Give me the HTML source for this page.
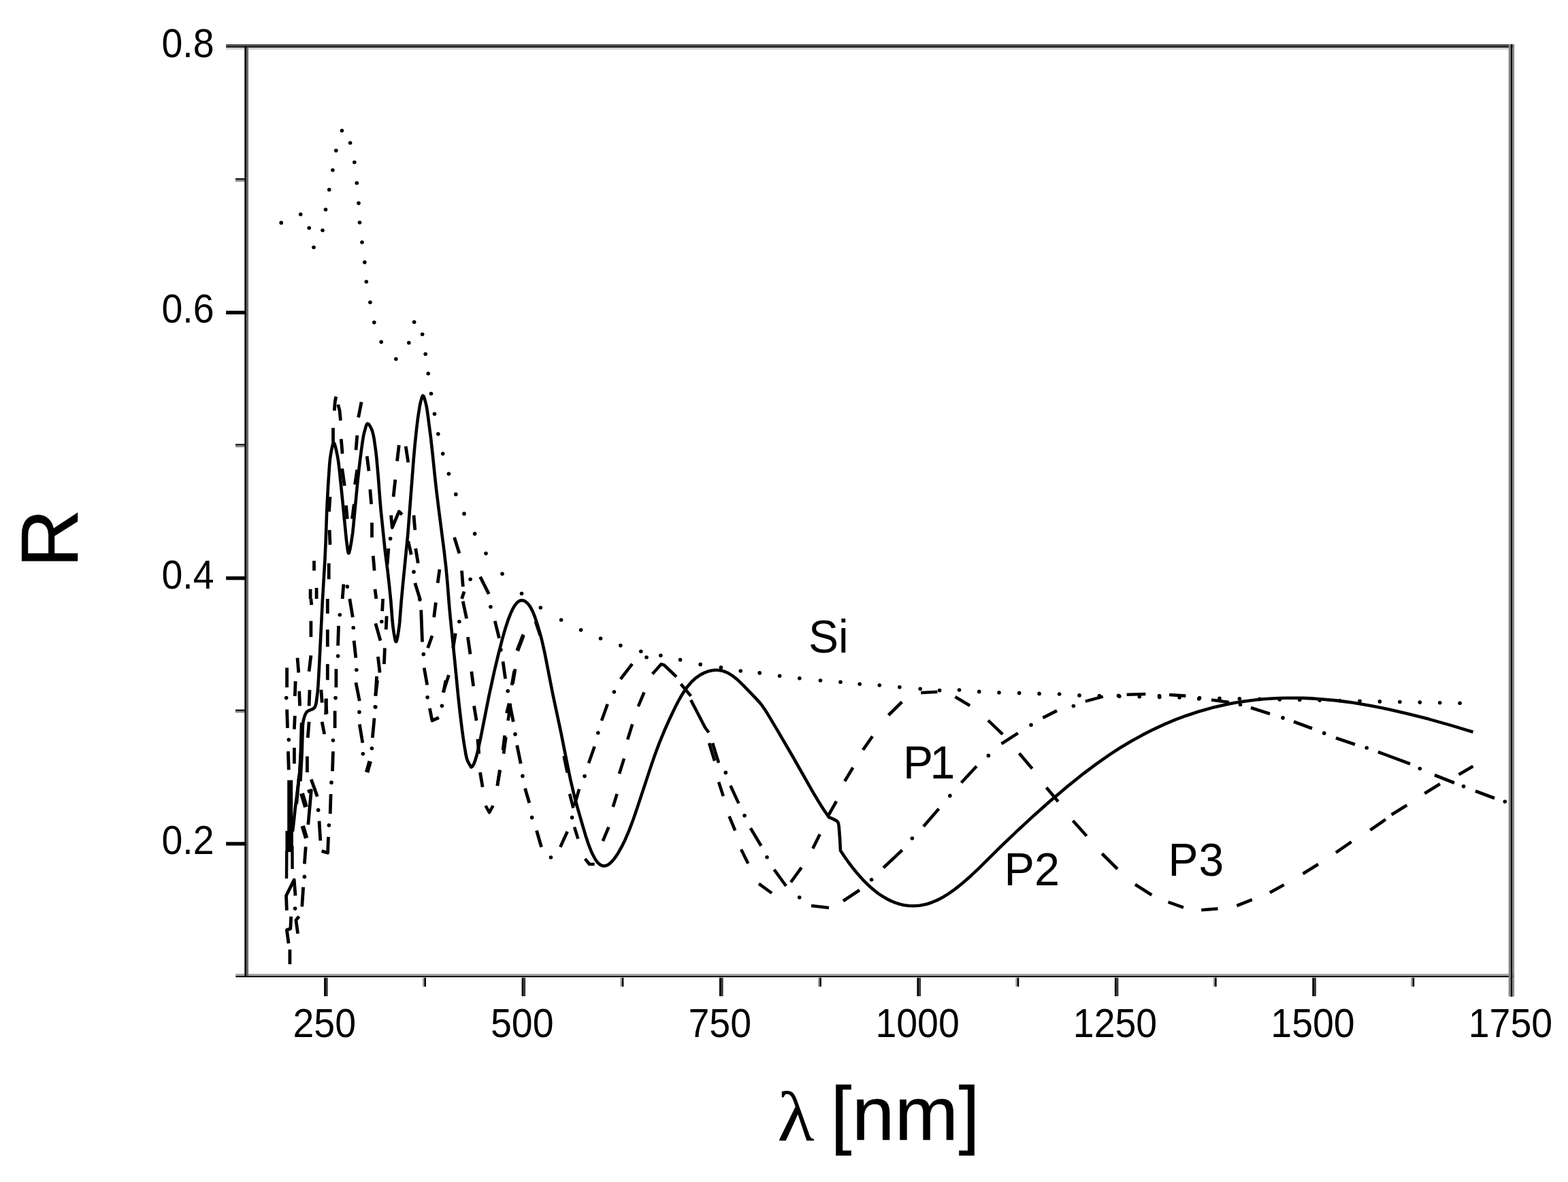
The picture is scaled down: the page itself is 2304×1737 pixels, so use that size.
<!DOCTYPE html>
<html lang="en">
<head>
<meta charset="utf-8">
<title>Reflectance R versus wavelength</title>
<style>
html,body{margin:0;padding:0;background:#fff;}
body{width:2304px;height:1737px;overflow:hidden;}
svg{display:block;}
text{font-family:"Liberation Sans",sans-serif;fill:#000;}
.tk text{font-size:55.5px;}
.lb text{font-size:66px;}
.ttl{font-size:112px;letter-spacing:0.4px;stroke:#000;stroke-width:0.5px;}
.ttlr{font-size:119px;stroke:#000;stroke-width:0.5px;}
.lam{font-family:"Liberation Serif",serif;font-size:103px;}
</style>
</head>
<body>
<svg width="2304" height="1737" viewBox="0 0 2304 1737">
<rect width="2304" height="1737" fill="#fff"/>
<g shape-rendering="auto">
<rect x="346.0" y="1042.7" width="14.0" height="2.2" fill="#000"/>
<rect x="346.0" y="1044.8" width="14.0" height="2.7" fill="#8c8c8c"/>
<rect x="346.0" y="652.4" width="14.0" height="2.2" fill="#000"/>
<rect x="346.0" y="654.6" width="14.0" height="2.7" fill="#8c8c8c"/>
<rect x="346.0" y="262.1" width="14.0" height="2.2" fill="#000"/>
<rect x="346.0" y="264.3" width="14.0" height="2.7" fill="#8c8c8c"/>
<rect x="620.9" y="1435.0" width="2.4" height="14.8" fill="#a6a6a6"/>
<rect x="623.3" y="1435.0" width="2.7" height="14.8" fill="#000"/>
<rect x="911.3" y="1435.0" width="2.4" height="14.8" fill="#a6a6a6"/>
<rect x="913.7" y="1435.0" width="2.7" height="14.8" fill="#000"/>
<rect x="1201.8" y="1435.0" width="2.4" height="14.8" fill="#a6a6a6"/>
<rect x="1204.2" y="1435.0" width="2.7" height="14.8" fill="#000"/>
<rect x="1492.2" y="1435.0" width="2.4" height="14.8" fill="#a6a6a6"/>
<rect x="1494.6" y="1435.0" width="2.7" height="14.8" fill="#000"/>
<rect x="1782.6" y="1435.0" width="2.4" height="14.8" fill="#a6a6a6"/>
<rect x="1785.0" y="1435.0" width="2.7" height="14.8" fill="#000"/>
<rect x="2073.1" y="1435.0" width="2.4" height="14.8" fill="#a6a6a6"/>
<rect x="2075.5" y="1435.0" width="2.7" height="14.8" fill="#000"/>
<rect x="332.2" y="1237.3" width="27.8" height="5.3" fill="#000"/>
<rect x="332.2" y="847.0" width="27.8" height="5.3" fill="#000"/>
<rect x="332.2" y="456.7" width="27.8" height="5.3" fill="#000"/>
<rect x="476.1" y="1435.0" width="2.8" height="29.0" fill="#000"/>
<rect x="478.9" y="1435.0" width="2.8" height="29.0" fill="#333"/>
<rect x="766.6" y="1435.0" width="2.8" height="29.0" fill="#000"/>
<rect x="769.3" y="1435.0" width="2.8" height="29.0" fill="#333"/>
<rect x="1057.0" y="1435.0" width="2.8" height="29.0" fill="#000"/>
<rect x="1059.8" y="1435.0" width="2.8" height="29.0" fill="#333"/>
<rect x="1347.4" y="1435.0" width="2.8" height="29.0" fill="#000"/>
<rect x="1350.2" y="1435.0" width="2.8" height="29.0" fill="#333"/>
<rect x="1637.9" y="1435.0" width="2.8" height="29.0" fill="#000"/>
<rect x="1640.6" y="1435.0" width="2.8" height="29.0" fill="#333"/>
<rect x="1928.3" y="1435.0" width="2.8" height="29.0" fill="#000"/>
<rect x="1931.1" y="1435.0" width="2.8" height="29.0" fill="#333"/>
<rect x="332.2" y="65.0" width="1892.9" height="3.1" fill="#4d4d4d"/>
<rect x="332.2" y="68.1" width="1892.9" height="1.8" fill="#000"/>
<rect x="332.2" y="69.9" width="1890.2" height="2.9" fill="#cfcfcf"/>
<rect x="346.3" y="1431.0" width="1878.8" height="3.1" fill="#a6a6a6"/>
<rect x="346.3" y="1434.1" width="1878.8" height="1.9" fill="#000"/>
<rect x="346.3" y="1436.0" width="1876.1" height="0.8" fill="#d9d9d9"/>
<rect x="359.3" y="68.1" width="3.0" height="1367.9" fill="#000"/>
<rect x="362.3" y="69.9" width="2.7" height="1364.2" fill="#666"/>
<rect x="2216.7" y="65.0" width="3.2" height="1399.3" fill="#878787"/>
<rect x="2219.9" y="65.0" width="2.5" height="1399.8" fill="#000"/>
<rect x="2222.4" y="65.0" width="2.7" height="1399.3" fill="#878787"/>
</g>
<g class="tk" text-anchor="middle">
<text transform="translate(476.8,1523.6) scale(1,1.055)">250</text>
<text transform="translate(767.2,1523.6) scale(1,1.055)">500</text>
<text transform="translate(1057.7,1523.6) scale(1,1.055)">750</text>
<text transform="translate(1348.1,1523.6) scale(1,1.055)">1000</text>
<text transform="translate(1638.5,1523.6) scale(1,1.055)">1250</text>
<text transform="translate(1929.0,1523.6) scale(1,1.055)">1500</text>
<text transform="translate(2219.4,1523.6) scale(1,1.055)">1750</text>
</g>
<g class="tk" text-anchor="end">
<text transform="translate(314.6,1255.1) scale(1,1.055)">0.2</text>
<text transform="translate(314.6,864.7) scale(1,1.055)">0.4</text>
<text transform="translate(314.6,474.2) scale(1,1.055)">0.6</text>
<text transform="translate(314.6,83.8) scale(1,1.055)">0.8</text>
</g>
<text class="ttlr" transform="translate(113.6,833.9) rotate(-90)">R</text>
<text class="lam" transform="translate(1142.3,1675.5) scale(1.09,1)">λ</text>
<text class="ttl" x="1220.5" y="1674.5">[nm]</text>
<g class="lb">
<text transform="translate(1188,958.6) scale(1,1.03)">Si</text>
<text transform="translate(1327,1144) scale(1,1.03)" style="letter-spacing:-4.5px">P1</text>
<text transform="translate(1475.5,1301) scale(1.01,1.03)">P2</text>
<text transform="translate(1716.5,1287.2) scale(1,1.03)" style="letter-spacing:1px">P3</text>
</g>
<g fill="none" stroke="#000" stroke-width="4.6" stroke-linejoin="round" stroke-linecap="butt">
<path d="M430.0,1222.0L432.0,1205.0 433.5,1190.0 439.3,1144.0 440.6,1132.0 441.5,1120.0 443.1,1086.8 444.3,1069.4 445.3,1061.5 446.6,1055.6 448.0,1051.3 449.8,1047.6 451.0,1046.0 452.6,1044.8 454.5,1043.9 458.6,1042.4 460.5,1041.4 462.0,1040.0 462.9,1038.5 463.6,1036.9 464.6,1033.1 466.7,1016.7 467.5,1007.1 469.0,980.5 473.8,884.1 477.6,819.2 478.5,798.9 480.3,748.4 482.1,713.8 484.1,684.1 485.0,674.1 486.5,664.5 488.6,654.4 489.8,651.4 490.4,651.0 491.0,651.4 491.6,652.5 492.8,656.4 494.1,661.6 496.1,671.6 497.0,676.8 498.7,690.7 502.4,726.4 508.8,791.9 511.1,809.6 511.9,812.6 512.3,813.0 512.7,812.7 513.1,811.8 514.4,806.5 516.3,796.0 518.3,782.5 519.3,772.6 524.6,716.6 527.3,690.7 530.5,664.7 532.9,647.6 534.3,639.3 535.2,635.7 537.7,626.6 538.5,624.5 539.3,623.1 540.2,622.5 541.4,623.0 542.7,624.5 545.4,629.4 547.1,633.5 548.5,639.0 549.7,645.2 552.2,662.9 553.3,672.5 555.8,700.8 558.4,735.3 559.6,749.3 566.0,811.2 569.7,839.8 572.1,861.4 574.2,882.0 576.4,910.0 577.3,919.9 578.8,930.3 580.2,937.9 581.1,941.6 581.5,942.6 582.0,943.0 582.5,942.6 582.9,941.6 584.3,935.6 586.2,923.4 587.3,914.2 589.6,884.2 591.9,859.6 599.2,786.0 607.8,674.3 609.6,654.0 612.0,631.0 614.1,613.7 616.8,596.5 618.0,591.0 620.0,583.7 620.8,582.1 621.5,581.5 622.2,582.1 623.0,583.6 623.8,585.8 626.0,594.0 627.1,599.2 628.6,609.5 632.9,642.6 635.4,664.9 639.0,700.0 641.0,718.6 645.0,751.0 652.5,809.0 655.2,832.6 657.3,854.8 660.2,891.3 661.7,907.6 668.2,971.0 673.1,1021.6 675.7,1045.5 679.1,1073.5 681.5,1090.7 684.6,1109.3 685.9,1114.8 687.0,1118.0 689.0,1122.1 692.4,1127.4 694.4,1126.0 696.4,1122.4 698.4,1117.0 700.4,1110.1 702.4,1102.0 706.4,1083.8 718.4,1023.0 726.4,986.2 732.4,961.1 738.4,937.9 742.4,924.0 746.4,911.7 750.4,901.4 752.4,897.0 754.4,893.1 756.4,889.8 758.4,887.2 760.4,885.1 762.4,883.6 764.4,882.6 766.4,882.2 768.4,882.4 770.4,883.0 772.4,884.2 774.4,885.9 776.4,888.0 778.4,890.7 780.4,894.0 782.4,897.9 784.4,902.6 786.4,907.9 790.4,920.1 794.4,933.9 796.4,941.7 800.4,959.5 812.4,1020.8 824.4,1077.0 834.4,1127.3 838.4,1146.5 844.4,1171.7 848.4,1186.4 856.4,1214.2 860.4,1227.7 864.4,1239.8 868.4,1250.2 870.4,1254.7 874.4,1262.3 876.4,1265.2 878.4,1267.7 880.4,1269.6 882.4,1271.0 884.4,1272.0 886.4,1272.5 888.4,1272.5 890.4,1272.1 892.4,1271.3 894.4,1270.2 896.4,1268.7 900.4,1264.7 904.4,1259.5 908.4,1253.4 914.4,1242.6 918.4,1234.4 924.4,1220.4 930.4,1204.5 936.4,1187.1 956.4,1126.4 962.4,1109.1 968.4,1092.9 976.4,1073.3 984.4,1055.5 992.4,1038.8 996.4,1031.0 1000.4,1023.8 1006.4,1014.2 1010.4,1008.7 1016.4,1001.8 1022.4,996.3 1028.4,992.1 1034.4,988.9 1040.4,986.6 1046.4,985.2 1050.4,984.8 1054.4,984.8 1058.4,985.2 1062.4,986.1 1066.4,987.5 1070.4,989.4 1076.4,993.1 1080.4,996.2 1084.4,999.6 1092.4,1007.3 1112.4,1028.1 1116.4,1032.6 1120.4,1037.7 1124.4,1043.5 1128.4,1049.9 1142.4,1073.4 1164.4,1111.0 1194.4,1163.8 1202.4,1177.2 1210.4,1189.9 1218.0,1201.0 1222.7,1202.9 1227.2,1205.1 1229.3,1206.2 1231.0,1208.0 1231.7,1209.5 1232.2,1211.2 1232.8,1215.5 1234.1,1233.0 1235.0,1250.0 1241.0,1259.0 1247.0,1267.5 1253.0,1275.4 1259.0,1282.8 1267.0,1291.8 1271.0,1296.0 1277.0,1301.8 1281.0,1305.4 1287.0,1310.3 1291.0,1313.3 1297.0,1317.3 1305.0,1321.9 1309.0,1323.9 1315.0,1326.3 1319.0,1327.7 1325.0,1329.4 1329.0,1330.2 1335.0,1331.0 1343.0,1331.2 1351.0,1330.7 1359.0,1329.2 1363.0,1328.2 1369.0,1326.2 1377.0,1322.9 1385.0,1318.8 1393.0,1313.9 1403.0,1306.9 1415.0,1297.3 1427.0,1286.7 1439.0,1275.3 1471.0,1243.7 1493.0,1222.6 1517.0,1200.4 1543.0,1177.3 1567.0,1156.9 1589.0,1139.2 1611.0,1122.6 1631.0,1108.6 1647.0,1098.3 1663.0,1088.7 1679.0,1079.9 1695.0,1071.8 1711.0,1064.4 1727.0,1057.7 1743.0,1051.7 1761.0,1045.8 1781.0,1040.1 1791.0,1037.7 1803.0,1035.1 1813.0,1033.1 1825.0,1031.1 1835.0,1029.7 1847.0,1028.3 1857.0,1027.3 1869.0,1026.5 1879.0,1026.0 1891.0,1025.7 1903.0,1025.7 1915.0,1025.9 1927.0,1026.4 1939.0,1027.2 1963.0,1029.4 1975.0,1030.9 1989.0,1032.8 2015.0,1037.2 2041.0,1042.4 2069.0,1048.9 2099.0,1056.6 2131.0,1065.6 2164.5,1075.7"/>
<g stroke-width="4.8">
<path d="M491.3,603.5L492.2,590.8L493.7,582.7"/>
<path d="M496.7,594.5L499.1,603.5L500.4,618.0"/>
<path d="M531.1,590.8L526.6,613.5"/>
<path d="M489.5,628.8L489.5,652.3"/>
<path d="M501.3,645.1L503.1,666.8"/>
<path d="M524.8,639.7L523.0,661.4"/>
<path d="M539.2,670.4L542.0,692.1"/>
<path d="M586.3,654.1L583.5,677.6"/>
<path d="M596.2,655.9L599.8,679.5"/>
<path d="M502.7,688.5L506.3,713.8"/>
<path d="M524.8,690.3L521.5,712.0"/>
<path d="M543.8,719.2L545.6,740.9"/>
<path d="M580.8,704.8L578.1,730.1"/>
<path d="M485.0,730.1L483.5,751.8"/>
<path d="M508.5,742.7L510.3,762.6"/>
<path d="M520.3,740.9L517.5,762.6"/>
<path d="M546.5,768.1L546.5,789.8"/>
<path d="M574.5,757.2L576.3,775.3L586.3,751.8L590.8,756.3"/>
<path d="M608.0,757.2L609.8,778.9"/>
<path d="M484.1,778.9L485.0,800.6"/>
<path d="M599.8,795.2L604.3,815.1"/>
<path d="M610.7,806.0L614.3,827.7"/>
<path d="M548.3,816.9L550.1,838.6"/>
<path d="M570.9,806.0L569.1,829.5"/>
<path d="M461.5,824.1L461.5,838.6"/>
<path d="M483.2,827.7L483.2,851.2"/>
<path d="M645.9,836.8L643.2,856.7"/>
<path d="M667.6,789.8L674.9,813.3"/>
<path d="M678.5,838.6L680.3,862.1"/>
<path d="M705.6,847.6L718.3,872.9"/>
<path d="M682.1,869.3L678.5,880.0"/>
<path d="M504.9,858.5L503.1,880.0"/>
<path d="M456.1,865.7L456.1,880.0"/>
<path d="M465.1,863.9L465.1,880.0"/>
<path d="M551.0,865.7L552.8,880.0"/>
<path d="M609.8,856.7L617.0,880.0"/>
<path d="M456.9,880.0L457.8,889.0"/>
<path d="M481.3,880.0L481.3,901.7"/>
<path d="M513.8,880.0L518.3,907.1"/>
<path d="M562.6,880.0L561.7,898.1"/>
<path d="M640.4,885.4L637.7,907.1"/>
<path d="M680.2,883.6L685.6,908.9"/>
<path d="M456.9,912.5L456.9,936.1"/>
<path d="M481.3,925.2L481.3,950.5"/>
<path d="M497.5,919.8L496.6,948.7"/>
<path d="M551.8,916.2L559.0,941.5"/>
<path d="M568.1,905.3L567.2,925.2"/>
<path d="M618.7,896.3L620.5,943.3"/>
<path d="M635.0,934.2L628.6,952.3"/>
<path d="M669.3,930.6L665.7,952.3"/>
<path d="M727.2,912.5L733.5,937.9"/>
<path d="M768.8,932.4L759.7,955.9"/>
<path d="M520.1,941.5L522.9,966.8"/>
<path d="M565.4,952.3L564.4,975.8"/>
<path d="M687.4,936.1L691.0,961.4"/>
<path d="M437.0,966.8L438.8,988.5"/>
<path d="M456.9,963.2L454.1,986.7"/>
<path d="M555.4,965.0L558.1,988.5"/>
<path d="M481.3,975.8L481.3,999.3"/>
<path d="M493.9,983.1L493.9,1010.2"/>
<path d="M421.6,981.3L421.6,1010.2"/>
<path d="M623.2,981.3L627.7,1006.6"/>
<path d="M659.4,992.1L651.2,1017.4"/>
<path d="M739.0,972.2L742.6,997.5"/>
<path d="M757.0,983.1L753.4,1004.8"/>
<path d="M692.8,986.7L695.6,1008.4"/>
<path d="M434.2,1001.2L433.3,1022.9"/>
<path d="M553.6,993.9L551.8,1022.9"/>
<path d="M522.9,1003.0L528.3,1030.1"/>
<path d="M439.7,1015.6L440.6,1037.3"/>
<path d="M455.0,1013.8L454.1,1037.3"/>
<path d="M479.5,1026.5L478.6,1050.0"/>
<path d="M631.4,1040.9L635.0,1059.0L644.9,1054.5"/>
<path d="M696.5,1037.3L700.1,1059.0"/>
<path d="M748.9,1033.7L754.3,1060.8"/>
<path d="M421.6,1042.7L422.5,1069.9"/>
<path d="M433.3,1051.8L432.4,1071.7"/>
<path d="M492.1,1044.6L492.1,1069.9"/>
<path d="M454.1,1060.8L452.3,1084.3"/>
<path d="M473.1,1060.8L476.7,1078.9"/>
<path d="M550.0,1055.4L547.3,1084.3"/>
<path d="M528.3,1064.4L532.8,1091.6"/>
<path d="M741.7,1080.7L739.0,1102.4"/>
<path d="M701.9,1086.1L703.7,1107.8"/>
<path d="M759.7,1095.2L765.2,1122.3"/>
<path d="M423.4,1104.2L424.3,1131.4"/>
<path d="M432.4,1098.8L432.4,1122.3"/>
<path d="M451.4,1111.5L451.4,1135.0"/>
<path d="M489.4,1104.2L488.5,1133.2"/>
<path d="M705.5,1135.0L709.1,1156.7"/>
<path d="M734.4,1131.4L730.8,1154.9"/>
<path d="M771.5,1158.5L777.8,1180.0"/>
<path d="M439.4,1140.0L435.8,1181.4"/>
<path d="M457.3,1145.4L466.3,1170.6"/>
<path d="M451.9,1163.4L457.3,1161.6L452.8,1211.9"/>
<path d="M469.0,1206.5L470.8,1235.3"/>
<path d="M486.1,1167.0L485.2,1195.8"/>
<path d="M482.5,1229.9L481.6,1253.3L472.6,1250.6"/>
<path d="M449.2,1244.3L447.4,1269.5"/>
<path d="M445.6,1303.7L443.8,1332.4"/>
<path d="M421.4,1337.8L420.5,1316.3L432.2,1292.9L434.0,1316.3"/>
<path d="M439.4,1346.8L434.9,1352.2L437.6,1372.0"/>
<path d="M427.7,1346.8L426.8,1364.8L421.4,1366.6L424.1,1386.4"/>
<path d="M425.9,1395.4L425.9,1417.0"/>
<path d="M471.9,1013.6L473.2,1032.6"/>
<path d="M478.7,1027.1L480.0,1048.8"/>
<path d="M554.6,1000.0L551.9,1021.7"/>
<path d="M655.0,1000.0L651.6,1017.6"/>
<path d="M788.5,1220.5L795.5,1244.8"/>
</g>
<path d="M731,1152.8L734.7,1132"/>
<path d="M740,1107.6L743.4,1083.3"/>
<path d="M746.5,1059L750,1035"/>
<path d="M752,1007L755.6,986"/>
<path d="M760.8,956.6L769.4,934"/>
<path d="M786.8,913L793.8,934"/>
<path d="M828.5,1111L833.7,1135.4"/>
<path d="M837,1166.7L842.4,1187.5"/>
<path d="M844,1215.3L849.3,1232.6"/>
<path d="M885.8,1236L894.4,1215.3"/>
<path d="M900.7,1185.8L906.6,1166.7"/>
<path d="M910,1137L917,1114.6"/>
<path d="M922.2,1086.8L929.2,1064.2"/>
<path d="M937.8,1038.2L946.5,1017.4"/>
<path d="M1000.5,1005.2L1015.2,1022.9"/>
<path d="M1042,1092L1050,1118"/>
<path d="M1056,1149.3L1062.8,1170"/>
<path d="M1071.5,1199.7L1080.2,1220.5"/>
<path d="M1089,1248.3L1099.3,1269"/>
<path d="M1115,1298.6L1134,1312.5"/>
<path d="M1162,1296.5L1177.7,1274.8"/>
<path d="M1194.3,1247L1204.7,1226"/>
<path d="M1217.7,1197.5L1229,1177.5"/>
<path d="M1241.2,1148L1253.3,1128"/>
<path d="M1268,1102L1282,1082"/>
<path d="M1305.5,1051L1325.3,1031.5"/>
<path d="M1353.2,1018L1377.4,1016.7"/>
<path d="M1403.5,1024L1425.2,1037"/>
<path d="M1452,1058.6L1473.3,1079.2"/>
<path d="M1497.6,1107L1516.7,1129.5"/>
<path d="M1537.5,1157.3L1554.9,1178"/>
<path d="M1576.5,1206L1596.7,1228.5"/>
<path d="M1619.3,1254.5L1642,1277"/>
<path d="M1668,1299.7L1692.3,1315.3"/>
<path d="M1716.6,1325.7L1739,1333.7"/>
<path d="M1765.2,1337.2L1789.5,1335.4"/>
<path d="M1817.3,1331L1839.8,1322.2"/>
<path d="M1865.9,1311.8L1886.7,1300.3"/>
<path d="M1914.5,1284L1937,1270"/>
<path d="M1963,1252.8L1985.7,1237.2"/>
<path d="M2013.4,1219.8L2036,1204.2"/>
<path d="M2044.7,1197.2L2067.3,1183.3"/>
<path d="M2093.3,1166L2115.9,1152"/>
<path d="M2143.6,1138.2L2164.5,1126"/>
<path d="M823.3,1244.8L833.7,1222"/>
<path d="M844,1184L851,1159.7"/>
<path d="M865,1121.5L873.6,1097"/>
<path d="M884,1059L892.7,1034.7"/>
<path d="M911.8,998L929,975.7"/>
<path d="M1047,1092L1056,1121"/>
<path d="M1073.3,1154.5L1085.4,1180.6"/>
<path d="M1102.8,1217L1118.4,1243"/>
<path d="M1137.5,1277.8L1155,1302"/>
<path d="M1192,1331L1218,1334"/>
<path d="M1239,1324L1263,1308"/>
<path d="M1298,1275.3L1325.7,1249.3"/>
<path d="M1357,1214.6L1379.5,1188.5"/>
<path d="M1412.5,1150.3L1435,1126"/>
<path d="M1471.5,1093L1495.8,1077.4"/>
<path d="M1532.3,1054.9L1553,1044.4"/>
<path d="M1594.8,1030.6L1620.8,1023.6"/>
<path d="M1655.6,1020.8L1683.3,1020"/>
<path d="M1718,1021L1742.4,1022.6"/>
<path d="M1780,1028.5L1806,1032"/>
<path d="M1838,1040L1866,1049"/>
<path d="M1901,1060.5L1928,1070.5"/>
<path d="M1963,1084.5L1991,1094"/>
<path d="M2025,1105L2072,1122.5"/>
<path d="M2108,1139L2137,1150.5"/>
<path d="M2168,1162.5L2196,1173"/>
<path d="M958.7,990.5L971.5,976L976,977.5L994,994.7"/>
<path d="M1015.2,1028.7L1036,1069L1041.5,1076.5"/>
<path d="M713.5,1184L719,1194L724.5,1184"/>
<path d="M859.7,1262L866,1270L873.6,1270"/>
</g>
<g fill="none" stroke="#000" stroke-width="6.5" stroke-linejoin="round">
<path d="M748.9,1033.7L745.3,1048.2"/>
<path d="M543.7,1118.7L539.1,1135.0"/>
<path d="M444.7,1213.7L450.1,1231.7"/>
<path d="M444.0,1062.0L442.8,1105.0L440.5,1148.0"/>
</g>
<g fill="none" stroke="#000">
<path stroke-width="8.0" d="M426.2,1146.5L426.2,1223.0"/>
<path stroke-width="7.0" d="M443.5,1166.0L449.5,1186.0"/>
<path stroke-width="11.5" d="M425.2,1221.0L425.2,1252.0"/>
<path stroke-width="4.4" d="M421.3,1250.0L421.0,1291.0"/>
<path stroke-width="4.4" d="M429.4,1243.0L429.6,1277.0"/>
</g>
<g fill="#000">
<circle cx="413.2" cy="327.4" r="2.8"/>
<circle cx="441.7" cy="315.0" r="2.8"/>
<circle cx="454.2" cy="335.0" r="2.8"/>
<circle cx="461.0" cy="363.5" r="2.8"/>
<circle cx="474.0" cy="338.5" r="2.8"/>
<circle cx="478.5" cy="308.0" r="2.8"/>
<circle cx="483.7" cy="278.8" r="2.8"/>
<circle cx="488.9" cy="250.0" r="2.8"/>
<circle cx="493.8" cy="221.2" r="2.8"/>
<circle cx="502.4" cy="192.0" r="2.8"/>
<circle cx="514.6" cy="210.0" r="2.8"/>
<circle cx="520.8" cy="238.5" r="2.8"/>
<circle cx="524.3" cy="269.0" r="2.8"/>
<circle cx="527.0" cy="298.6" r="2.8"/>
<circle cx="528.5" cy="327.0" r="2.8"/>
<circle cx="532.0" cy="356.0" r="2.8"/>
<circle cx="535.8" cy="385.4" r="2.8"/>
<circle cx="538.3" cy="414.0" r="2.8"/>
<circle cx="543.9" cy="444.2" r="2.8"/>
<circle cx="549.8" cy="473.8" r="2.8"/>
<circle cx="560.2" cy="502.6" r="2.8"/>
<circle cx="581.8" cy="527.6" r="2.8"/>
<circle cx="600.8" cy="503.8" r="2.8"/>
<circle cx="608.6" cy="473.2" r="2.8"/>
<circle cx="620.6" cy="491.3" r="2.8"/>
<circle cx="625.2" cy="520.2" r="2.8"/>
<circle cx="629.2" cy="549.0" r="2.8"/>
<circle cx="633.5" cy="578.5" r="2.8"/>
<circle cx="638.5" cy="608.3" r="2.8"/>
<circle cx="643.8" cy="637.8" r="2.8"/>
<circle cx="650.7" cy="666.7" r="2.8"/>
<circle cx="659.4" cy="696.2" r="2.8"/>
<circle cx="669.8" cy="726.4" r="2.8"/>
<circle cx="682.0" cy="754.9" r="2.8"/>
<circle cx="697.6" cy="784.4" r="2.8"/>
<circle cx="714.0" cy="813.2" r="2.8"/>
<circle cx="738.0" cy="843.2" r="2.8"/>
<circle cx="766.5" cy="872.2" r="2.8"/>
<circle cx="794.3" cy="893.0" r="2.8"/>
<circle cx="824.6" cy="911.0" r="2.8"/>
<circle cx="853.6" cy="925.8" r="2.8"/>
<circle cx="882.5" cy="938.3" r="2.8"/>
<circle cx="911.8" cy="948.6" r="2.8"/>
<circle cx="941.8" cy="957.3" r="2.8"/>
<circle cx="970.8" cy="963.3" r="2.8"/>
<circle cx="999.5" cy="969.6" r="2.8"/>
<circle cx="1029.2" cy="976.4" r="2.8"/>
<circle cx="1059.4" cy="980.9" r="2.8"/>
<circle cx="1088.2" cy="986.0" r="2.8"/>
<circle cx="1116.2" cy="988.9" r="2.8"/>
<circle cx="1145.6" cy="993.2" r="2.8"/>
<circle cx="1174.8" cy="996.8" r="2.8"/>
<circle cx="1205.5" cy="1000.0" r="2.8"/>
<circle cx="1235.0" cy="1002.2" r="2.8"/>
<circle cx="1263.2" cy="1005.2" r="2.8"/>
<circle cx="1292.3" cy="1007.0" r="2.8"/>
<circle cx="1321.8" cy="1009.7" r="2.8"/>
<circle cx="1352.2" cy="1012.2" r="2.8"/>
<circle cx="1380.6" cy="1014.6" r="2.8"/>
<circle cx="1409.5" cy="1014.0" r="2.8"/>
<circle cx="1438.7" cy="1016.4" r="2.8"/>
<circle cx="1468.0" cy="1017.8" r="2.8"/>
<circle cx="1497.6" cy="1018.4" r="2.8"/>
<circle cx="1527.0" cy="1019.4" r="2.8"/>
<circle cx="1556.6" cy="1020.0" r="2.8"/>
<circle cx="1586.0" cy="1021.9" r="2.8"/>
<circle cx="1615.4" cy="1022.6" r="2.8"/>
<circle cx="1644.8" cy="1023.2" r="2.8"/>
<circle cx="1674.3" cy="1023.8" r="2.8"/>
<circle cx="1703.7" cy="1024.4" r="2.8"/>
<circle cx="1733.1" cy="1025.0" r="2.8"/>
<circle cx="1762.6" cy="1025.6" r="2.8"/>
<circle cx="1792.0" cy="1026.2" r="2.8"/>
<circle cx="1821.4" cy="1026.8" r="2.8"/>
<circle cx="1850.8" cy="1027.4" r="2.8"/>
<circle cx="1880.3" cy="1027.9" r="2.8"/>
<circle cx="1909.7" cy="1028.5" r="2.8"/>
<circle cx="1939.1" cy="1029.1" r="2.8"/>
<circle cx="1968.6" cy="1029.7" r="2.8"/>
<circle cx="1998.0" cy="1030.3" r="2.8"/>
<circle cx="2027.4" cy="1030.9" r="2.8"/>
<circle cx="2056.9" cy="1031.5" r="2.8"/>
<circle cx="2086.3" cy="1032.1" r="2.8"/>
<circle cx="2115.7" cy="1032.7" r="2.8"/>
<circle cx="2145.1" cy="1033.3" r="2.8"/>
<circle cx="809.4" cy="1260.0" r="2.8"/>
<circle cx="840.6" cy="1201.4" r="2.8"/>
<circle cx="859.0" cy="1140.6" r="2.8"/>
<circle cx="878.8" cy="1077.0" r="2.8"/>
<circle cx="902.4" cy="1016.7" r="2.8"/>
<circle cx="950.0" cy="966.0" r="2.8"/>
<circle cx="1066.3" cy="1135.4" r="2.8"/>
<circle cx="1094.0" cy="1198.6" r="2.8"/>
<circle cx="1127.0" cy="1259.7" r="2.8"/>
<circle cx="1174.7" cy="1318.8" r="2.8"/>
<circle cx="1280.6" cy="1292.7" r="2.8"/>
<circle cx="1340.3" cy="1232.0" r="2.8"/>
<circle cx="1395.8" cy="1169.4" r="2.8"/>
<circle cx="1452.4" cy="1110.4" r="2.8"/>
<circle cx="1515.0" cy="1065.3" r="2.8"/>
<circle cx="1577.4" cy="1037.5" r="2.8"/>
<circle cx="1643.5" cy="1022.4" r="2.8"/>
<circle cx="1703.5" cy="1022.5" r="2.8"/>
<circle cx="1761.7" cy="1027.0" r="2.8"/>
<circle cx="1822.5" cy="1035.5" r="2.8"/>
<circle cx="1885.0" cy="1054.9" r="2.8"/>
<circle cx="1945.7" cy="1077.4" r="2.8"/>
<circle cx="2008.2" cy="1099.0" r="2.8"/>
<circle cx="2086.3" cy="1129.5" r="2.8"/>
<circle cx="2150.6" cy="1155.6" r="2.8"/>
<circle cx="2211.3" cy="1178.0" r="2.8"/>
<circle cx="573.6" cy="791.6" r="2.8"/>
<circle cx="608.0" cy="840.4" r="2.8"/>
<circle cx="691.1" cy="851.2" r="2.8"/>
<circle cx="510.3" cy="862.1" r="2.8"/>
<circle cx="499.3" cy="903.5" r="2.8"/>
<circle cx="616.9" cy="880.9" r="2.8"/>
<circle cx="720.9" cy="891.8" r="2.8"/>
<circle cx="519.2" cy="922.5" r="2.8"/>
<circle cx="560.8" cy="913.5" r="2.8"/>
<circle cx="674.8" cy="913.5" r="2.8"/>
<circle cx="622.3" cy="961.4" r="2.8"/>
<circle cx="496.6" cy="964.1" r="2.8"/>
<circle cx="523.8" cy="984.5" r="2.8"/>
<circle cx="420.7" cy="1025.6" r="2.8"/>
<circle cx="493.0" cy="1025.6" r="2.8"/>
<circle cx="628.1" cy="1024.7" r="2.8"/>
<circle cx="746.2" cy="1015.6" r="2.8"/>
<circle cx="649.4" cy="1037.3" r="2.8"/>
<circle cx="551.8" cy="1039.1" r="2.8"/>
<circle cx="527.9" cy="1046.4" r="2.8"/>
<circle cx="757.0" cy="1078.9" r="2.8"/>
<circle cx="424.3" cy="1087.1" r="2.8"/>
<circle cx="489.4" cy="1088.0" r="2.8"/>
<circle cx="546.4" cy="1099.7" r="2.8"/>
<circle cx="533.3" cy="1107.8" r="2.8"/>
<circle cx="767.9" cy="1140.4" r="2.8"/>
<circle cx="467.6" cy="1190.4" r="2.8"/>
<circle cx="483.4" cy="1212.8" r="2.8"/>
<circle cx="487.0" cy="1149.9" r="2.8"/>
<circle cx="447.4" cy="1288.4" r="2.8"/>
<circle cx="433.6" cy="1335.1" r="2.8"/>
<circle cx="551.2" cy="1038.7" r="2.8"/>
<circle cx="781.6" cy="1201.4" r="2.8"/>
<circle cx="735.8" cy="954.9" r="2.8"/>
</g>
</svg>
</body>
</html>
